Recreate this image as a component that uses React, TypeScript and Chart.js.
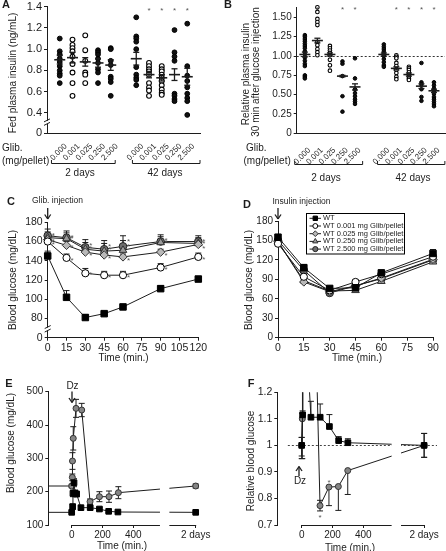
import React, { useEffect, useRef } from "react";
import { Chart, registerables } from "chart.js";

Chart.register(...registerables);

const FONT = "'Liberation Sans', Arial, Helvetica, sans-serif";
const INK = "#1c1c1c";
const STAR = "#555";
Chart.defaults.font.family = FONT;
Chart.defaults.color = INK;

// ---------------- Panel A : fed plasma insulin (ng/mL) ----------------
const DOSE_LABELS = ["0.000", "0.001", "0.025", "0.250", "2.500"];
const A_POS_2D = [1, 2, 3, 4, 5];
const A_POS_42D = [7, 8, 9, 10, 11];
const A_OPEN = [false, true, true, false, false];
const A_2D = [
  [1.1, 0.98, 0.95, 0.91, 0.88, 0.84, 0.8, 0.77, 0.75, 0.68],
  [1.09, 1.04, 1.01, 0.98, 0.93, 0.86, 0.78, 0.68, 0.56],
  [1.13, 0.99, 0.89, 0.78, 0.76, 0.68],
  [0.99, 0.97, 0.95, 0.91, 0.87, 0.81, 0.78, 0.68],
  [1.01, 1.0, 0.89, 0.85, 0.74, 0.72, 0.69, 0.56],
];
const A_42D = [
  [1.3, 1.12, 1.1, 1.07, 1.0, 0.83, 0.76, 0.73, 0.71, 0.66],
  [0.87, 0.84, 0.81, 0.79, 0.76, 0.68, 0.64, 0.61, 0.56],
  [0.84, 0.81, 0.79, 0.76, 0.73, 0.7, 0.66, 0.62, 0.59, 0.57],
  [1.18, 0.97, 0.93, 0.89, 0.58, 0.56, 0.53, 0.51],
  [1.24, 0.84, 0.75, 0.7, 0.64, 0.58, 0.54, 0.51, 0.38],
];
const A_MEAN_2D = [0.9, 0.92, 0.88, 0.87, 0.85];
const A_SEM_2D = [0.04, 0.05, 0.04, 0.04, 0.05];
const A_MEAN_42D = [0.91, 0.76, 0.73, 0.76, 0.74];
const A_SEM_42D = [0.06, 0.03, 0.03, 0.055, 0.08];
const A_STARS = [8, 9, 10, 11];
const A_Y_TICKS = [0.21, 0.4, 0.6, 0.8, 1.0, 1.2, 1.4];
const A_Y_LABELS = ["0", "0.4", "0.6", "0.8", "1.0", "1.2", "1.4"];

// ---------------- Panel B : relative plasma insulin ----------------
const B_POS_2D = [1, 2, 3, 4, 5];
const B_POS_42D = [7.3, 8.3, 9.3, 10.3, 11.3];
const B_OPEN = [false, true, true, false, false];
const B_2D = [
  [1.27, 1.25, 1.22, 1.19, 1.16, 1.13, 1.1, 1.06, 1.02, 0.98, 0.94, 0.9, 0.87, 0.75, 0.73, 0.71],
  [1.63, 1.57, 1.48, 1.44, 1.4, 1.18, 1.14, 1.09, 1.05, 1.01],
  [1.13, 1.1, 1.07, 1.04, 1.01, 0.95, 0.88, 0.81],
  [0.93, 0.9, 0.74, 0.48, 0.28],
  [0.97, 0.71, 0.57, 0.52, 0.48, 0.44, 0.41, 0.38],
];
const B_42D = [
  [1.15, 1.12, 1.09, 1.06, 1.03, 1.0, 0.96, 0.92, 0.88, 0.86],
  [1.01, 0.99, 0.97, 0.91, 0.87, 0.82, 0.78, 0.73, 0.7],
  [0.86, 0.84, 0.82, 0.79, 0.76, 0.73, 0.71, 0.69],
  [0.91, 0.66, 0.63, 0.57, 0.47, 0.42],
  [0.66, 0.62, 0.58, 0.55, 0.51, 0.47, 0.44, 0.41, 0.38, 0.35],
];
const B_MEAN_2D = [1.02, 1.2, 1.02, 0.74, 0.6];
const B_SEM_2D = [0.03, 0.03, 0.02, 0.01, 0.04];
const B_MEAN_42D = [1.02, 0.84, 0.76, 0.61, 0.55];
const B_SEM_42D = [0.02, 0.02, 0.02, 0.03, 0.02];
const B_STARS = [2, 4, 5, 8.3, 9.3, 10.3, 11.3];
const B_Y_TICKS = [0, 0.25, 0.5, 0.75, 1.0, 1.25, 1.5];
const B_Y_LABELS = ["0", "0.25", "0.50", "0.75", "1.00", "1.25", "1.50"];

// ---------------- Panel C : glucose after glibenclamide ----------------
const C_TIME = [0, 15, 30, 45, 60, 90, 120];
const C_WT = [145, 102, 81, 85, 92, 111, 121];
const C_WT_ERR = [5, 7, 3, 2, 2, 3, 2];
const C_G001 = [160, 143, 127, 125, 125, 133, 144];
const C_G001_ERR = [3, 4, 5, 4, 4, 4, 4];
const C_G025 = [162, 156, 149, 146, 144, 149, 157];
const C_G025_ERR = [4, 4, 3, 3, 3, 3, 2];
const C_G250 = [164, 163, 152, 150, 151, 159, 158];
const C_G250_ERR = [6, 6, 7, 8, 10, 6, 6];
const C_G2500 = [166, 164, 154, 152, 155, 160, 160];
const C_G2500_ERR = [7, 7, 8, 9, 11, 7, 6];
const C_Y_TICKS = [60, 80, 100, 120, 140, 160, 180];
const C_Y_LABELS = ["0", "80", "100", "120", "140", "160", "180"];
const C_X_TICKS = [0, 15, 30, 45, 60, 75, 90, 105, 120];

// ---------------- Panel D : insulin tolerance ----------------
const D_TIME = [0, 15, 30, 45, 60, 90];
const D_WT = [155, 108, 76, 77, 100, 130];
const D_WT_ERR = [4, 5, 3, 2, 3, 6];
const D_G001 = [145, 94, 73, 86, 98, 125];
const D_G001_ERR = [3, 4, 3, 3, 4, 5];
const D_G025 = [148, 86, 71, 80, 92, 121];
const D_G025_ERR = [3, 3, 2, 3, 3, 4];
const D_G250 = [148, 88, 72, 73, 87, 117];
const D_G250_ERR = [3, 3, 2, 3, 3, 4];
const D_G2500 = [150, 104, 69, 80, 91, 120];
const D_G2500_ERR = [4, 5, 3, 3, 3, 5];
const D_Y_TICKS = [0, 30, 60, 90, 120, 150, 180];
const D_X_TICKS = [0, 15, 30, 45, 60, 75, 90];
const LEGEND_LABELS = [
  "WT",
  "WT 0.001 mg Glib/pellet",
  "WT 0.025 mg Glib/pellet",
  "WT 0.250 mg Glib/pellet",
  "WT 2.500 mg Glib/pellet",
];

// ---------------- Panel E : glucose after diazoxide ----------------
const E_TWO_DAYS = 805;
const E_GAP = [573, 634];
const E_GRAY_T = [-150, 0, 4, 5, 10, 28, 65, 119, 180, 242, 303, E_TWO_DAYS];
const E_GRAY = [217, 217, 243, 292, 360, 450, 445, 170, 185, 185, 197, 217];
const E_GRAY_ERR = [0, 5, 10, 25, 35, 27, 20, 8, 15, 17, 18, 6];
const E_WT_T = [-150, 0, 6, 8, 15, 22, 32, 60, 120, 180, 240, 300, E_TWO_DAYS];
const E_WT = [138, 138, 155, 195, 227, 195, 193, 152, 152, 148, 141, 139, 138];
const E_WT_ERR = [0, 4, 8, 10, 12, 10, 8, 5, 5, 4, 3, 3, 4];
const E_Y_TICKS = [100, 200, 300, 400, 500];
const E_X_TICKS = [0, 200, 400, E_TWO_DAYS];
const E_X_LABELS = ["0", "200", "400", "2 days"];

// ---------------- Panel F : relative blood glucose ----------------
const F_TWO_DAYS = 795;
const F_GAP = [584, 645];
const F_WT_T = [0, 6, 8, 15, 22, 32, 60, 120, 180, 240, 300, F_TWO_DAYS];
const F_WT = [1.0, 1.115, 1.41, 1.64, 1.41, 1.4, 1.106, 1.106, 1.071, 1.018, 1.01, 1.0];
const F_WT_UP = [0.03, 0.015, 0, 0, 0, 0, 0.06, 0.05, 0.045, 0.015, 0.015, 0.045];
const F_WT_DN = [0.05, 0, 0, 0, 0, 0, 0, 0, 0, 0, 0, 0.045];
const F_GRAY_T = [0, 4, 5, 10, 28, 65, 119, 177, 238, 299, F_TWO_DAYS];
const F_GRAY = [1.0, 1.1, 1.35, 1.66, 2.07, 2.05, 0.773, 0.843, 0.845, 0.905, 1.0];
const F_GRAY_UP = [0.03, 0.02, 0, 0, 0, 0, 0.02, 0, 0, 0, 0.045];
const F_GRAY_DN = [0.04, 0.15, 0, 0, 0, 0, 0.02, 0.07, 0.09, 0.09, 0.045];
const F_STARS_BELOW = [119];
const F_STARS_ABOVE = [177];
const F_Y_TICKS = [0.7, 0.8, 0.9, 1.0, 1.1, 1.2];
const F_Y_LABELS = ["0.7", "0.8", "0.9", "1", "1.1", "1.2"];
const F_X_TICKS = [0, 200, 400, F_TWO_DAYS];
const F_X_LABELS = ["0", "200", "400", "2 days"];

// ---------------- layout helpers ----------------
const OFF = 20, CW = 500, CH = 600, YW = 40, XH = 30;
const P = (v: number) => v + OFF;

const STYLES = [
  { style: "rect", r: 4.6, fill: "#000", stroke: "#000" },
  { style: "circle", r: 3.6, fill: "#fff", stroke: "#000" },
  { style: "rectRot", r: 4.2, fill: "#b8b8b8", stroke: "#333" },
  { style: "triangle", r: 4.4, fill: "#9a9a9a", stroke: "#333" },
  { style: "circle", r: 3.8, fill: "#6e6e6e", stroke: "#222" },
];

function text(ctx: any, s: string, x: number, y: number, size: number, o: any = {}) {
  ctx.save();
  ctx.font = `${o.bold ? "bold " : ""}${size}px ${FONT}`;
  ctx.fillStyle = o.color || INK;
  ctx.textAlign = o.align || "center";
  ctx.textBaseline = o.baseline || "middle";
  ctx.translate(o.raw ? x : P(x), o.raw ? y : P(y));
  if (o.rot) ctx.rotate(o.rot);
  ctx.fillText(s, 0, 0);
  ctx.restore();
}
function ln(ctx: any, x1: number, y1: number, x2: number, y2: number, w = 1, color = INK, dash: number[] = []) {
  ctx.save();
  ctx.strokeStyle = color;
  ctx.lineWidth = w;
  ctx.setLineDash(dash);
  ctx.beginPath();
  ctx.moveTo(x1, y1);
  ctx.lineTo(x2, y2);
  ctx.stroke();
  ctx.restore();
}
const al = (v: number) => Math.round(v - 0.5) + 0.5;

function star(ctx: any, cx: number, cy: number, size = 8) {
  text(ctx, "*", cx, cy + 0.57 * size, size, { raw: true, baseline: "alphabetic", color: STAR });
}
function arrow(ctx: any, x: number, yFrom: number, yTo: number) {
  const X = P(x), A = P(yFrom), B = P(yTo);
  const d = Math.sign(B - A);
  ln(ctx, X, A, X, B, 1.3);
  ln(ctx, X - 3, B - d * 4.5, X, B, 1.3);
  ln(ctx, X + 3, B - d * 4.5, X, B, 1.3);
}
function marker(ctx: any, st: any, x: number, y: number, r: number) {
  ctx.save();
  ctx.fillStyle = st.fill;
  ctx.strokeStyle = st.stroke;
  ctx.lineWidth = 1;
  ctx.beginPath();
  if (st.style === "rect") {
    const s = r * Math.SQRT1_2;
    ctx.rect(x - s, y - s, 2 * s, 2 * s);
  } else if (st.style === "circle") {
    ctx.arc(x, y, r, 0, Math.PI * 2);
  } else if (st.style === "rectRot") {
    ctx.moveTo(x, y - r); ctx.lineTo(x + r, y); ctx.lineTo(x, y + r); ctx.lineTo(x - r, y); ctx.closePath();
  } else {
    ctx.moveTo(x, y - r); ctx.lineTo(x + r * 0.866, y + r * 0.5); ctx.lineTo(x - r * 0.866, y + r * 0.5); ctx.closePath();
  }
  ctx.fill();
  ctx.stroke();
  ctx.restore();
}
function axisBreak(chart: any, v: number) {
  const { ctx, chartArea: ca } = chart;
  const yy = chart.scales.y.getPixelForValue(v);
  const xx = ca.left;
  ctx.save();
  ctx.fillStyle = "#fff";
  ctx.fillRect(xx - 3, yy - 1.5, 6, 3);
  ctx.restore();
  ln(ctx, xx - 3, yy - 0.5, xx + 3, yy - 3.5);
  ln(ctx, xx - 3, yy + 3, xx + 3, yy);
}

function base(area: any) {
  return {
    responsive: false,
    maintainAspectRatio: false,
    animation: false,
    events: [],
    layout: {
      padding: {
        left: area.l + OFF - YW,
        top: area.t + OFF,
        right: CW - OFF - area.r,
        bottom: CH - OFF - area.b - XH,
      },
    },
    elements: { line: { tension: 0 } },
    plugins: { legend: { display: false }, tooltip: { enabled: false }, title: { display: false } },
  };
}
function yAxis(min: number, max: number, ticks: number[], labels: string[], size: number) {
  return {
    type: "linear",
    min,
    max,
    afterFit: (s: any) => { s.width = YW; },
    afterBuildTicks: (s: any) => { s.ticks = ticks.map((v) => ({ value: v })); },
    ticks: {
      callback: (_v: any, i: number) => labels[i],
      font: { size, family: FONT },
      color: INK,
      padding: 2,
      autoSkip: false,
    },
    grid: { drawOnChartArea: false, drawTicks: true, tickLength: 3, color: INK, lineWidth: 1 },
    border: { display: true, color: INK, width: 1 },
  };
}
function xAxis(min: number, max: number, ticks: number[], labels: string[], size: number, border = true) {
  return {
    type: "linear",
    min,
    max,
    afterFit: (s: any) => { s.height = XH; },
    afterBuildTicks: (s: any) => { s.ticks = ticks.map((v) => ({ value: v })); },
    ticks: {
      callback: (_v: any, i: number) => labels[i],
      font: { size, family: FONT },
      color: INK,
      padding: 1,
      autoSkip: false,
      maxRotation: 0,
      minRotation: 0,
    },
    grid: { drawOnChartArea: false, drawTicks: true, tickLength: 3, color: INK, lineWidth: 1 },
    border: { display: border, color: INK, width: 1 },
  };
}
function hiddenX(min: number, max: number) {
  return {
    type: "linear",
    min,
    max,
    afterFit: (s: any) => { s.height = XH; },
    ticks: { display: false },
    grid: { display: false },
    border: { display: true, color: INK, width: 1 },
  };
}

function groupDatasets(pos: number[], groups: number[][], open: boolean[], r: number) {
  return groups.map((vals, i) => ({
    data: vals.map((v) => ({ x: pos[i], y: v })),
    showLine: false,
    pointStyle: "circle",
    pointRadius: r,
    pointBorderWidth: open[i] ? 1.1 : 1,
    pointBorderColor: "#000",
    pointBackgroundColor: open[i] ? "#fff" : "#111",
    clip: false,
  }));
}
function lineDs(xs: number[], ys: number[], st: any, extra: any = {}) {
  return {
    data: xs.map((x, i) => ({ x, y: ys[i] })),
    showLine: true,
    borderColor: INK,
    borderWidth: 1,
    pointStyle: st.style,
    pointRadius: st.r,
    pointBackgroundColor: st.fill,
    pointBorderColor: st.stroke,
    pointBorderWidth: 1,
    clip: false,
    ...extra,
  };
}

function drawMeans(chart: any, pos: number[], means: number[], sems: number[]) {
  const { ctx, scales: { x, y } } = chart;
  pos.forEach((p, i) => {
    const px = x.getPixelForValue(p);
    const pm = y.getPixelForValue(means[i]);
    const pt = y.getPixelForValue(means[i] + sems[i]);
    const pb = y.getPixelForValue(means[i] - sems[i]);
    ln(ctx, px - 5.5, pm, px + 5.5, pm, 1.6);
    ln(ctx, px, pt, px, pb, 1.3);
    ln(ctx, px - 3, pt, px + 3, pt, 1.3);
    ln(ctx, px - 3, pb, px + 3, pb, 1.3);
  });
}
function drawCats(chart: any, pos: number[], dx: number, yOrig: number, size = 8) {
  pos.forEach((p, i) => {
    const px = chart.scales.x.getPixelForValue(p);
    text(chart.ctx, DOSE_LABELS[i], px + dx, P(yOrig), size, { raw: true, align: "right", rot: -Math.PI / 4 });
  });
}
function bracket(chart: any, v1: number, v2: number, yOrig: number) {
  const x = chart.scales.x;
  const ctx = chart.ctx;
  const a = x.getPixelForValue(v1), b = x.getPixelForValue(v2), yy = al(P(yOrig));
  ctx.save();
  ctx.strokeStyle = INK;
  ctx.lineWidth = 1;
  ctx.beginPath();
  ctx.moveTo(a, yy - 3.5);
  ctx.lineTo(a, yy);
  ctx.lineTo(b, yy);
  ctx.lineTo(b, yy - 3.5);
  ctx.stroke();
  ctx.restore();
}

const errPlugin = (cap: number, clipArea: boolean) => ({
  id: "errbars",
  beforeDatasetsDraw(chart: any) {
    const { ctx, chartArea: ca } = chart;
    const xs = chart.scales.x, ys = chart.scales.y;
    ctx.save();
    if (clipArea) {
      ctx.beginPath();
      ctx.rect(ca.left - 20, ca.top, ca.right - ca.left + 40, ca.bottom - ca.top + 20);
      ctx.clip();
    }
    chart.data.datasets.forEach((ds: any) => {
      ds.data.forEach((p: any, i: number) => {
        const px = xs.getPixelForValue(p.x), py = ys.getPixelForValue(p.y);
        const sides: any[] = [[ds.errUp, 1], [ds.errDn, -1]];
        sides.forEach(([arr, sgn]) => {
          const e = arr && arr[i];
          if (!e) return;
          const pe = ys.getPixelForValue(p.y + sgn * e);
          ln(ctx, px, py, px, pe, 1);
          ln(ctx, px - cap, pe, px + cap, pe, 1);
        });
      });
    });
    ctx.restore();
  },
});

// ---------------- panels ----------------
function makeA(): any {
  const area = { l: 47, t: 6.7, r: 200, b: 133 };
  return {
    type: "scatter",
    data: {
      datasets: [...groupDatasets(A_POS_2D, A_2D, A_OPEN, 2.4), ...groupDatasets(A_POS_42D, A_42D, A_OPEN, 2.4)],
    },
    options: { ...base(area), scales: { x: hiddenX(0, 12), y: yAxis(0.21, 1.4, A_Y_TICKS, A_Y_LABELS, 11) } },
    plugins: [
      {
        id: "pa",
        afterDatasetsDraw(chart: any) {
          drawMeans(chart, A_POS_2D, A_MEAN_2D, A_SEM_2D);
          drawMeans(chart, A_POS_42D, A_MEAN_42D, A_SEM_42D);
        },
        afterDraw(chart: any) {
          const ctx = chart.ctx;
          axisBreak(chart, 0.31);
          A_STARS.forEach((p) => star(ctx, chart.scales.x.getPixelForValue(p), P(8), 8));
          drawCats(chart, A_POS_2D, 6, 145);
          drawCats(chart, A_POS_42D, 6, 145);
          text(ctx, "A", 6, 5, 11, { bold: true });
          text(ctx, "Fed plasma insulin (ng/mL)", 13.3, 73, 10, { rot: -Math.PI / 2 });
          text(ctx, "Glib.", 2, 148, 10, { align: "left" });
          text(ctx, "(mg/pellet)", 2, 161, 10, { align: "left" });
          bracket(chart, 0.35, 5.35, 163.5);
          bracket(chart, 6.7, 12, 163.5);
          text(ctx, "2 days", 80, 173, 10);
          text(ctx, "42 days", 165, 173, 10);
        },
      },
    ],
  };
}

function makeB(): any {
  const area = { l: 296.7, t: 7, r: 445, b: 133.3 };
  return {
    type: "scatter",
    data: {
      datasets: [...groupDatasets(B_POS_2D, B_2D, B_OPEN, 1.8), ...groupDatasets(B_POS_42D, B_42D, B_OPEN, 1.8)],
    },
    options: { ...base(area), scales: { x: hiddenX(0.35, 12.18), y: yAxis(0, 1.634, B_Y_TICKS, B_Y_LABELS, 10) } },
    plugins: [
      {
        id: "pb",
        beforeDatasetsDraw(chart: any) {
          const { ctx, chartArea: ca } = chart;
          const yy = al(chart.scales.y.getPixelForValue(1));
          ln(ctx, ca.left, yy, ca.right, yy, 1, "#333", [2, 2]);
        },
        afterDatasetsDraw(chart: any) {
          drawMeans(chart, B_POS_2D, B_MEAN_2D, B_SEM_2D);
          drawMeans(chart, B_POS_42D, B_MEAN_42D, B_SEM_42D);
        },
        afterDraw(chart: any) {
          const ctx = chart.ctx;
          B_STARS.forEach((p) => star(ctx, chart.scales.x.getPixelForValue(p), P(7.5), 8));
          drawCats(chart, B_POS_2D, 4.5, 149);
          drawCats(chart, B_POS_42D, 4.5, 149);
          text(ctx, "B", 228, 5, 11, { bold: true });
          text(ctx, "Relative plasma insulin", 246.5, 74, 10, { rot: -Math.PI / 2 });
          text(ctx, "30 min after glucose injection", 256, 72, 10, { rot: -Math.PI / 2 });
          text(ctx, "Glib.", 246, 148.5, 10, { align: "left" });
          text(ctx, "(mg/pellet)", 243.5, 161.5, 10, { align: "left" });
          bracket(chart, 0.19, 5.61, 164);
          bracket(chart, 6.8, 12.17, 164);
          text(ctx, "2 days", 326, 178, 10);
          text(ctx, "42 days", 413, 178, 10);
        },
      },
    ],
  };
}

function makeC(): any {
  const area = { l: 47.7, t: 222.3, r: 198.3, b: 337.7 };
  const series = [
    [C_WT, C_WT_ERR],
    [C_G001, C_G001_ERR],
    [C_G025, C_G025_ERR],
    [C_G250, C_G250_ERR],
    [C_G2500, C_G2500_ERR],
  ];
  return {
    type: "scatter",
    data: {
      datasets: series.map(([v, e]: any, i) => lineDs(C_TIME, v, STYLES[i], { errUp: e })),
    },
    options: {
      ...base(area),
      scales: {
        x: xAxis(0, 120, C_X_TICKS, C_X_TICKS.map(String), 10.5),
        y: yAxis(60, 180, C_Y_TICKS, C_Y_LABELS, 10.5),
      },
    },
    plugins: [
      errPlugin(3, false),
      {
        id: "pc",
        afterDraw(chart: any) {
          const ctx = chart.ctx;
          const xs = chart.scales.x, ys = chart.scales.y;
          series.slice(1).forEach(([v, e]: any) => {
            C_TIME.forEach((t, i) => {
              star(ctx, xs.getPixelForValue(t) + 5.5, ys.getPixelForValue(v[i] + e[i]) + 4, 8);
            });
          });
          axisBreak(chart, 69);
          text(ctx, "C", 11, 202, 11, { bold: true });
          text(ctx, "Glib. injection", 57.5, 200.5, 8.5);
          arrow(ctx, 47.7, 208, 219);
          text(ctx, "Blood glucose (mg/dL)", 13.3, 280, 10, { rot: -Math.PI / 2 });
          text(ctx, "Time (min.)", 123.5, 358, 10);
        },
      },
    ],
  };
}

function makeD(): any {
  const area = { l: 278, t: 221, r: 433, b: 337.7 };
  const series = [
    [D_WT, D_WT_ERR],
    [D_G001, D_G001_ERR],
    [D_G025, D_G025_ERR],
    [D_G250, D_G250_ERR],
    [D_G2500, D_G2500_ERR],
  ];
  return {
    type: "scatter",
    data: {
      datasets: series.map(([v, e]: any, i) => lineDs(D_TIME, v, STYLES[i], { errUp: e })),
    },
    options: {
      ...base(area),
      scales: {
        x: xAxis(0, 90, D_X_TICKS, D_X_TICKS.map(String), 10.5),
        y: yAxis(0, 180, D_Y_TICKS, D_Y_TICKS.map(String), 10),
      },
    },
    plugins: [
      errPlugin(3, false),
      {
        id: "pd",
        afterDraw(chart: any) {
          const ctx = chart.ctx;
          // legend
          ctx.save();
          ctx.strokeStyle = "#000";
          ctx.lineWidth = 1;
          ctx.strokeRect(al(P(306.7)), al(P(213.3)), 98, 40.5);
          ctx.restore();
          LEGEND_LABELS.forEach((lab, i) => {
            const yy = P(218.3 + i * 7.7);
            ln(ctx, P(309.5), yy, P(321), yy, 1);
            marker(ctx, STYLES[i], P(315.3), yy, STYLES[i].r * 0.68);
            text(ctx, lab, P(323), yy, 7.5, { raw: true, align: "left" });
          });
          text(ctx, "D", 247, 205, 11, { bold: true });
          text(ctx, "Insulin injection", 301.5, 201.5, 8.5);
          arrow(ctx, 278, 208, 219);
          text(ctx, "Blood glucose (mg/dL)", 249.7, 280, 10, { rot: -Math.PI / 2 });
          text(ctx, "Time (min.)", 357, 358, 10);
        },
      },
    ],
  };
}

function gapAndAxis(chart: any, gap: number[], end: number) {
  const { ctx, chartArea: ca, scales: { x } } = chart;
  const g1 = x.getPixelForValue(gap[0]), g2 = x.getPixelForValue(gap[1]);
  ctx.save();
  ctx.fillStyle = "#fff";
  ctx.fillRect(g1, ca.top - 10, g2 - g1, ca.bottom - ca.top + 11);
  ctx.restore();
  const yy = al(ca.bottom);
  ln(ctx, x.getPixelForValue(0), yy, g1, yy, 1);
  ln(ctx, g2, yy, x.getPixelForValue(end) + 0.5, yy, 1);
}

function makeE(): any {
  const area = { l: 48.3, t: 391.7, r: 195.7, b: 525 };
  const gray = { style: "circle", r: 3, fill: "#858585", stroke: "#333" };
  const blk = { style: "rect", r: 4, fill: "#000", stroke: "#000" };
  return {
    type: "scatter",
    data: {
      datasets: [
        lineDs(E_WT_T, E_WT, blk, { errUp: E_WT_ERR, errDn: E_WT_ERR, pointRadius: E_WT_T.map((t) => (t < 0 ? 0 : 4)) }),
        lineDs(E_GRAY_T, E_GRAY, gray, { errUp: E_GRAY_ERR, errDn: E_GRAY_ERR, pointRadius: E_GRAY_T.map((t) => (t < 0 ? 0 : 3)) }),
      ],
    },
    options: {
      ...base(area),
      scales: {
        x: xAxis(-152, E_TWO_DAYS, E_X_TICKS, E_X_LABELS, 10, false),
        y: yAxis(100, 500, E_Y_TICKS, E_Y_TICKS.map(String), 10),
      },
    },
    plugins: [
      errPlugin(3, false),
      {
        id: "pe",
        afterDatasetsDraw(chart: any) {
          gapAndAxis(chart, E_GAP, E_TWO_DAYS);
        },
        afterDraw(chart: any) {
          const ctx = chart.ctx;
          text(ctx, "E", 9, 384, 11, { bold: true });
          text(ctx, "Dz", 72.5, 386.5, 10);
          arrow(ctx, 72, 391.5, 402.5);
          text(ctx, "Blood glucose (mg/dL)", 11.7, 443, 10, { rot: -Math.PI / 2 });
          text(ctx, "Time (min.)", 122, 546.5, 10);
        },
      },
    ],
  };
}

function makeF(): any {
  const area = { l: 277.3, t: 392.3, r: 437, b: 525 };
  const gray = { style: "circle", r: 3, fill: "#858585", stroke: "#333" };
  const blk = { style: "rect", r: 4, fill: "#000", stroke: "#000" };
  const clip = { left: 10, top: 0, right: 10, bottom: 10 };
  return {
    type: "scatter",
    data: {
      datasets: [
        lineDs(F_WT_T, F_WT, blk, { errUp: F_WT_UP, errDn: F_WT_DN, clip }),
        lineDs(F_GRAY_T, F_GRAY, gray, { errUp: F_GRAY_UP, errDn: F_GRAY_DN, clip }),
      ],
    },
    options: {
      ...base(area),
      scales: {
        x: xAxis(-158.4, 878.6, F_X_TICKS, F_X_LABELS, 10, false),
        y: yAxis(0.7, 1.2, F_Y_TICKS, F_Y_LABELS, 10.5),
      },
    },
    plugins: [
      errPlugin(3, true),
      {
        id: "pf",
        beforeDatasetsDraw(chart: any) {
          const { ctx, chartArea: ca } = chart;
          const yy = al(chart.scales.y.getPixelForValue(1));
          ln(ctx, chart.scales.x.getPixelForValue(-90), yy, ca.right, yy, 1, "#444", [2, 2]);
        },
        afterDatasetsDraw(chart: any) {
          gapAndAxis(chart, F_GAP, F_TWO_DAYS);
          const ctx = chart.ctx;
          const xs = chart.scales.x, ys = chart.scales.y;
          F_STARS_BELOW.forEach((t) => {
            const i = F_GRAY_T.indexOf(t);
            star(ctx, xs.getPixelForValue(t), ys.getPixelForValue(F_GRAY[i] - F_GRAY_DN[i]) + 5, 8);
          });
          F_STARS_ABOVE.forEach((t) => {
            const i = F_GRAY_T.indexOf(t);
            star(ctx, xs.getPixelForValue(t), ys.getPixelForValue(F_GRAY[i]) - 7, 8);
          });
        },
        afterDraw(chart: any) {
          const ctx = chart.ctx;
          text(ctx, "F", 251, 383.5, 11, { bold: true });
          arrow(ctx, 299, 476, 466.5);
          text(ctx, "Dz", 300, 481.5, 10);
          text(ctx, "Relative blood glucose", 251.3, 461, 10, { rot: -Math.PI / 2 });
          text(ctx, "Time (min.)", 350, 548, 10);
        },
      },
    ],
  };
}

const MAKERS = [makeA, makeB, makeC, makeD, makeE, makeF];

export default function App() {
  const refs = useRef<(HTMLCanvasElement | null)[]>([]);
  useEffect(() => {
    const charts = MAKERS.map((mk, i) => new Chart(refs.current[i] as HTMLCanvasElement, mk()));
    return () => charts.forEach((c) => c.destroy());
  }, []);
  return (
    <div
      style={{
        position: "absolute",
        left: 0,
        top: 0,
        width: 446,
        height: 551,
        overflow: "hidden",
        background: "#fff",
      }}
    >
      {MAKERS.map((_m, i) => (
        <canvas
          key={i}
          ref={(el) => {
            refs.current[i] = el;
          }}
          width={CW}
          height={CH}
          style={{ position: "absolute", left: -OFF, top: -OFF, width: CW, height: CH }}
        />
      ))}
    </div>
  );
}
